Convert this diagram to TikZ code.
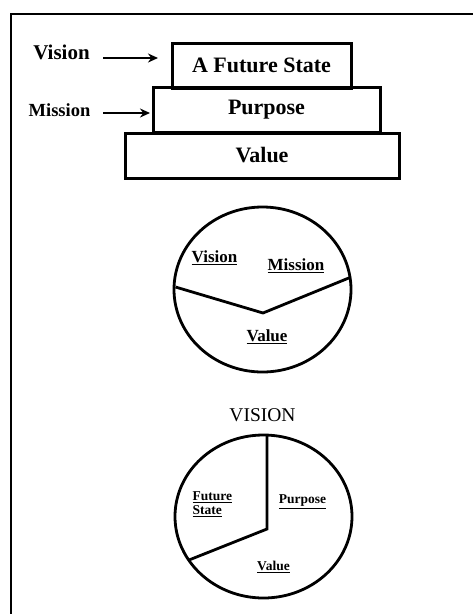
\documentclass[tikz,border=0pt]{standalone}
\usepackage{fontspec}
\setmainfont{Liberation Serif}
\usetikzlibrary{arrows.meta, positioning}

\begin{document}
\begin{tikzpicture}[x=1pt,y=-1pt,
   tier/.style={draw,line width=3pt,inner sep=0pt,minimum height=45pt,
                font=\fontsize{22}{26}\selectfont\bfseries},
   lbl/.style={font=\fontsize{20}{24}\selectfont\bfseries},
   slice/.style={font=\fontsize{17}{20}\selectfont\bfseries},
   small/.style={align=left,font=\fontsize{13.5}{16}\selectfont\bfseries},
   pie/.style={line width=2.8pt},
   arr/.style={-{Stealth[length=10pt,width=9pt]},line width=2.6pt}]
   \useasboundingbox (0,0) rectangle (473,614);
   % frame
   \draw[line width=2.6pt] (11,614) -- (11,14) -- (473,14);

   % the three tiers
   \node[tier,minimum width=274pt] (val) at (262,155.5) {Value};
   \node[tier,minimum width=227pt,minimum height=44.5pt] (pur) at (266.5,110) {Purpose};
   \node[tier,minimum width=179pt] (fut) at (261.5,65.5) {A Future State};
   \node[lbl,font=\fontsize{21}{24}\selectfont\bfseries] (vis) at (61.5,52) {Vision};
   \node[lbl,font=\fontsize{18.5}{22}\selectfont\bfseries] (mis) at (59.5,110) {Mission};
   \coordinate (vistail) at (103,58);
   \coordinate (vishead) at (158,58);
   \coordinate (mistail) at (103,113);
   \coordinate (mishead) at (150,113);
   \draw[arr] (vistail) -- (vishead);
   \draw[arr] (mistail) -- (mishead);

   % first pie
   \coordinate (c1) at (262.5,289.5);
   \draw[pie] (c1) ellipse [x radius=88.5pt,y radius=82.5pt];
   \coordinate (c1l) at (175.5,287);
   \coordinate (c1m) at (263,313);
   \coordinate (c1r) at (350,277.5);
   \draw[pie] (c1l) -- (c1m) -- (c1r);
   \node[slice] (v1) at (214.5,258) {\underline{Vision}};
   \node[slice] (m1) at (296,266) {\underline{Mission}};
   \node[slice] (w1) at (267,337) {\underline{Value}};

   % second pie
   \node[font=\fontsize{19.5}{22}\selectfont] (ttl) at (262.5,415) {VISION};
   \coordinate (c2) at (263.5,516.5);
   \draw[pie] (c2) ellipse [x radius=88.5pt,y radius=81.5pt];
   \coordinate (c2t) at (267,435);
   \coordinate (c2m) at (267,529);
   \coordinate (c2l) at (189,560);
   \draw[pie] (c2t) -- (c2m) -- (c2l);
   \node[small,anchor=west] (fs2) at (189,504) {\underline{Future}\\[-2pt]\underline{State}};
   \node[small] (p2) at (302.5,502) {\underline{Purpose}};
   \node[small] (w2) at (273.5,567) {\underline{Value}};
\end{tikzpicture}
\end{document}
